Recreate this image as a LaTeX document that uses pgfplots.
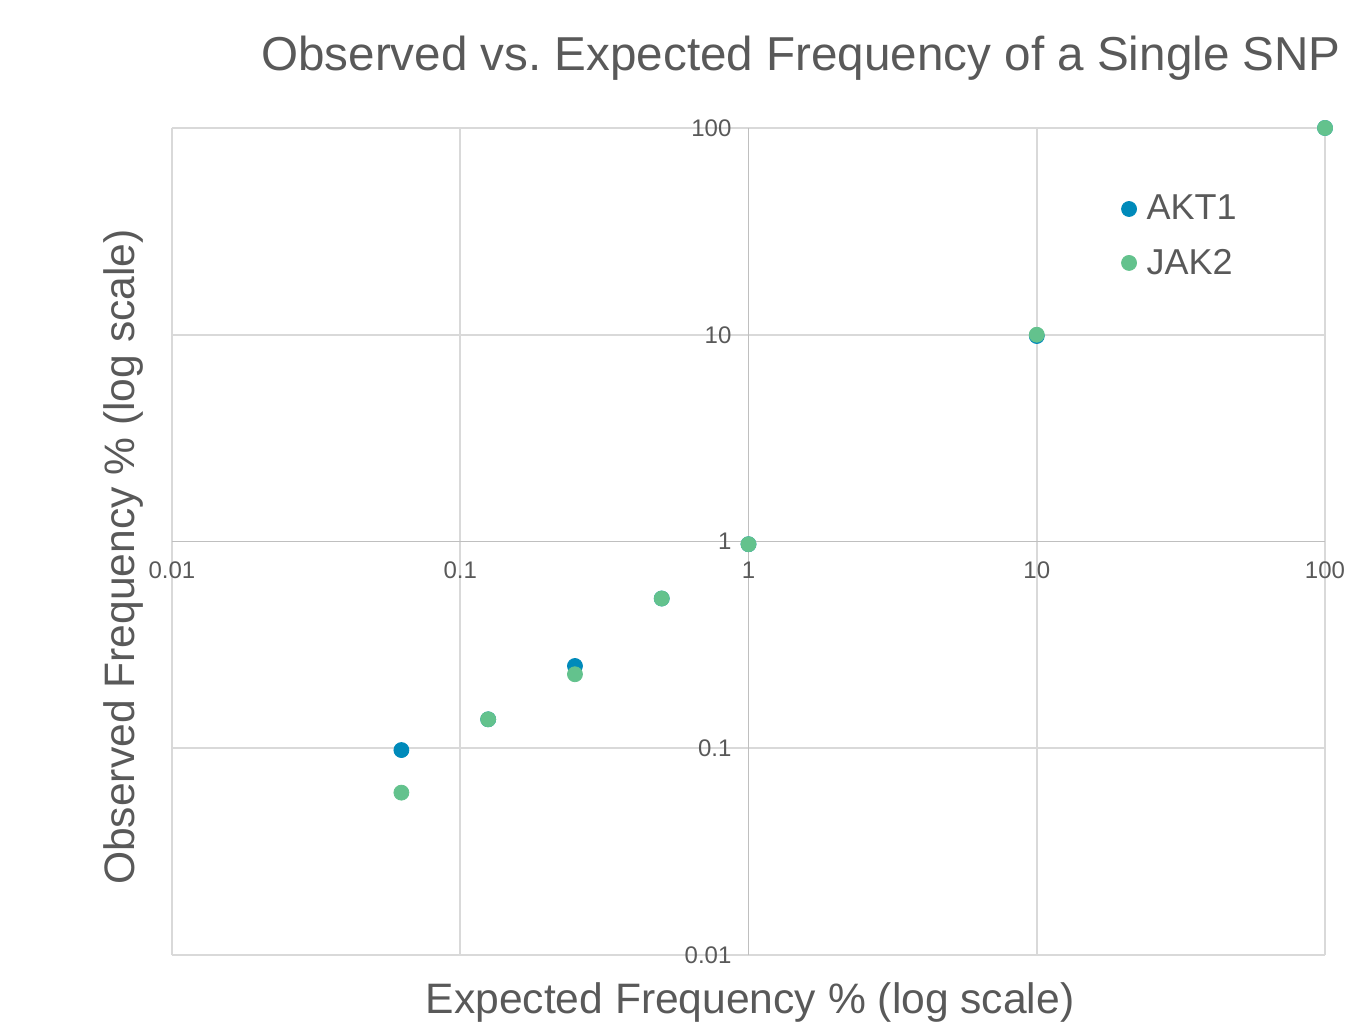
\documentclass[border=0pt]{standalone}
\usepackage{pgfplots}
\pgfplotsset{compat=1.18}
\usepackage{fontspec}
\setmainfont{Liberation Sans}
\definecolor{akt}{RGB}{0,138,186}
\definecolor{jak}{RGB}{99,194,141}
\definecolor{txt}{RGB}{89,89,89}
\definecolor{gridc}{RGB}{217,217,217}
\definecolor{axc}{RGB}{191,191,191}
\begin{document}
\begin{tikzpicture}
\useasboundingbox (-86pt,-36.5pt) rectangle (598pt,477.5pt);
\begin{axis}[
  scale only axis,
  width=576.5pt, height=413.5pt,
  xmode=log, ymode=log,
  xmin=0.01, xmax=100, ymin=0.01, ymax=100,
  axis lines=center,
  axis line style={-, draw=axc, line width=0.8pt},
  hide obscured x ticks=false,
  hide obscured y ticks=false,
  xtick={0.01,0.1,1,10,100},
  xticklabels={0.01,0.1,1,10,100},
  ytick={0.01,0.1,1,10,100},
  yticklabels={0.01,0.1,1,10,100},
  minor tick num=0,
  major tick length=0pt,
  minor tick length=0pt,
  grid=major,
  major grid style={draw=gridc, line width=0.8pt},
  tick label style={font=\fontsize{12}{14}\selectfont, text=txt},
  x tick label style={yshift=-6.5pt},
  y tick label style={xshift=-5pt},
  legend style={draw=none, fill=none, at={(rel axis cs:0.818,0.929)}, anchor=north west,
    font=\fontsize{18}{22}\selectfont, text=txt, row sep=9pt, column sep=3pt,
    legend cell align=left},
  clip=false,
]
\addplot[only marks, mark=*, mark size=3.75pt, color=akt, mark options={draw=akt, fill=akt}]
coordinates {(0.0625,0.098) (0.125,0.138) (0.25,0.25) (0.5,0.53) (1,0.97) (10,9.86) (100,100)};
\addlegendentry{AKT1}
\addplot[only marks, mark=*, mark size=3.75pt, color=jak, mark options={draw=jak, fill=jak}]
coordinates {(0.0625,0.061) (0.125,0.138) (0.25,0.228) (0.5,0.53) (1,0.97) (10,10) (100,100)};
\addlegendentry{JAK2}
\end{axis}
\node[text=txt, font=\fontsize{23.8}{28}\selectfont] at (314.5pt,448.5pt) {Observed vs.\ Expected Frequency of a Single SNP};
\node[text=txt, font=\fontsize{21.3}{25}\selectfont] at (289pt,-23.5pt) {Expected Frequency \% (log scale)};
\node[text=txt, font=\fontsize{21.3}{25}\selectfont, rotate=90] at (-24.5pt,199pt) {Observed Frequency \% (log scale)};
\end{tikzpicture}
\end{document}
